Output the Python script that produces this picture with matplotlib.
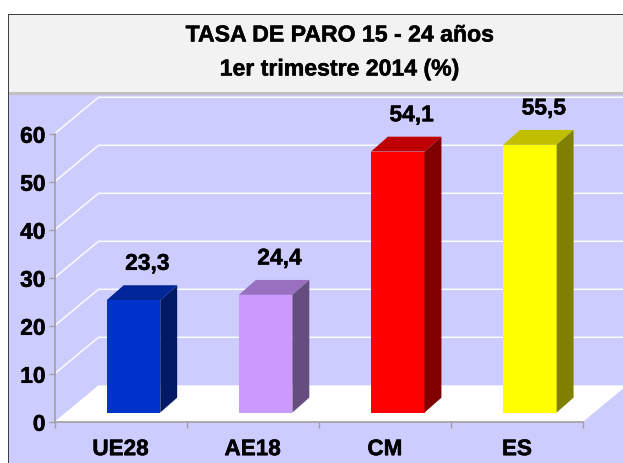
import matplotlib
matplotlib.use("Agg")
import matplotlib.pyplot as plt
import matplotlib.patheffects as pe
from matplotlib.patches import Rectangle

W, H = 623, 464

categories = ["UE28", "AE18", "CM", "ES"]
values = [23.3, 24.4, 54.1, 55.5]
labels = ["23,3", "24,4", "54,1", "55,5"]
y_ticks = [0, 10, 20, 30, 40, 50, 60]

front_colors = ["#0033CC", "#CC99FF", "#FF0000", "#FFFF00"]
top_colors = ["#002699", "#9970BF", "#BF0000", "#BFBF00"]
side_colors = ["#001A66", "#664D80", "#800000", "#808000"]

BG = "#CCCCFF"
AXIS = "#A0A0A0"

plt.rcParams["font.family"] = ["Liberation Sans", "DejaVu Sans"]
plt.rcParams["font.weight"] = "bold"

# chart depth, in data units
WALL_DX, WALL_DY = 0.333, 7.6
BAR_W = 0.405
BAR_SHIFT, BAR_BASE = 0.098, 1.93
BAR_DX, BAR_DY = 0.128, 3.1
BAR_SCALE = 1.005

HEAVY = [pe.withStroke(linewidth=0.35, foreground="black")]


def px_rect(fig, x0, y0, x1, y1, color, **kw):
    # y counted from the top of the image
    fig.add_artist(Rectangle((x0 / W, 1 - y1 / H), (x1 - x0) / W, (y1 - y0) / H,
                             transform=fig.transFigure, facecolor=color,
                             edgecolor="none", **kw))


fig = plt.figure(figsize=(W / 100, H / 100), dpi=100, facecolor="white")

# frame, title band and plot area
px_rect(fig, 8, 15, W, H, "#404040", zorder=-5)
px_rect(fig, 9, 16, W, H, BG, zorder=-4)
px_rect(fig, 9, 16, W, 93, "#F2F2F2", zorder=-3)
px_rect(fig, 9, 92.5, W, 96, "#C0C0C0", zorder=-3)

fig.text(339 / W, 1 - 36 / H, "TASA DE PARO 15 - 24 años", ha="center", va="center",
         fontsize=16.6, color="black", path_effects=HEAVY)
fig.text(339 / W, 1 - 70 / H, "1er trimestre 2014 (%)", ha="center", va="center",
         fontsize=16.6, color="black", path_effects=HEAVY)

ax = fig.add_axes([54.5 / W, 1 - 422.8 / H, (583 - 54.5) / W, 288 / H])
ax.patch.set_alpha(0)
ax.set_xlim(0, 4)
ax.set_ylim(0, 60)

# floor and wall grid
ax.fill([0, WALL_DX, 4 + WALL_DX, 4], [0, WALL_DY, WALL_DY, 0],
        color="white", lw=0, clip_on=False, zorder=1)
for v in y_ticks[1:]:
    ax.plot([0, WALL_DX, 4 + WALL_DX], [v, v + WALL_DY, v + WALL_DY],
            color="white", lw=1.0, clip_on=False, zorder=1)

for i, val in enumerate(values):
    cx = i + 0.5 + BAR_SHIFT
    left, right = cx - BAR_W / 2, cx + BAR_W / 2
    top = BAR_BASE + val * BAR_SCALE
    ax.bar(cx, val * BAR_SCALE, BAR_W, bottom=BAR_BASE, color=front_colors[i], lw=0,
           zorder=3, clip_on=False)
    ax.fill([left, left + BAR_DX, right + BAR_DX, right],
            [top, top + BAR_DY, top + BAR_DY, top],
            color=top_colors[i], lw=0, zorder=3, clip_on=False)
    ax.fill([right, right + BAR_DX, right + BAR_DX, right],
            [BAR_BASE, BAR_BASE + BAR_DY, top + BAR_DY, top],
            color=side_colors[i], lw=0, zorder=3, clip_on=False)
    ax.annotate(labels[i], (cx, top), xytext=(10, 26.5), textcoords="offset points",
                ha="center", va="center", fontsize=16.4, color="black",
                annotation_clip=False, zorder=4, path_effects=HEAVY)

for s in ["top", "right"]:
    ax.spines[s].set_visible(False)
for s in ["left", "bottom"]:
    ax.spines[s].set_color(AXIS)
    ax.spines[s].set_linewidth(1.2)

ax.set_yticks(y_ticks)
ax.tick_params(axis="y", length=4, width=1.0, color=AXIS, pad=2.5, labelsize=16.4)
ax.set_xticks(range(5))
ax.set_xticklabels([])
ax.tick_params(axis="x", which="major", length=4.5, width=1.0, color=AXIS)
ax.set_xticks([i + 0.5 for i in range(4)], minor=True)
ax.set_xticklabels(categories, minor=True)
ax.tick_params(axis="x", which="minor", length=0, pad=12.5, labelsize=16.2)

for t in ax.get_yticklabels() + ax.get_xticklabels(minor=True):
    t.set_path_effects(HEAVY)

fig.savefig("out.png", dpi=100)
